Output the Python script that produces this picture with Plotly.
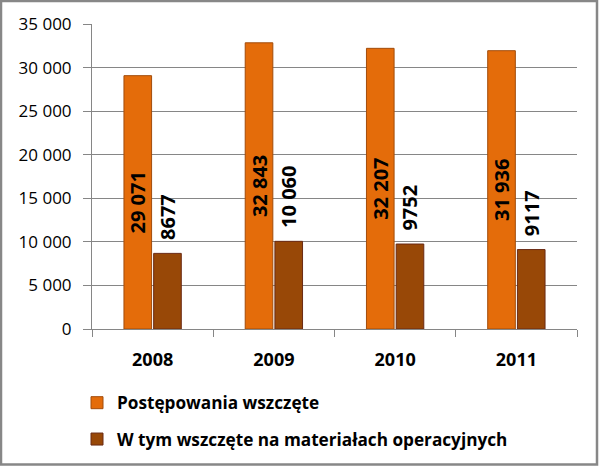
import plotly.graph_objects as go

years = ["2008", "2009", "2010", "2011"]
wszczete = [29071, 32843, 32207, 31936]
operacyjne = [8677, 10060, 9752, 9117]
series_names = ["Postępowania wszczęte", "W tym wszczęte na materiałach operacyjnych"]
y_ticks = [0, 5000, 10000, 15000, 20000, 25000, 30000, 35000]


def fmt(v):
    return f"{v:,}".replace(",", " ") if v >= 10000 else str(v)


W, H = 600, 468
L, R, T, B = 92, 23, 24, 138
pw, ph = W - L - R, H - T - B

FONT = "Open Sans"
PAD = "\u00a0\u00a0"

fig = go.Figure()
fig.add_trace(go.Bar(
    x=years, y=wszczete, name=series_names[0], legendgroup="a",
    marker=dict(color="#E46C0A", line=dict(color="#A24C0B", width=1)),
    text=[fmt(v) for v in wszczete], textposition="inside",
    insidetextanchor="middle", textangle=-90, constraintext="none",
    textfont=dict(family=FONT, size=20, color="black", weight="bold"),
))
fig.add_trace(go.Bar(
    x=years, y=operacyjne, name=series_names[1], legendgroup="b",
    marker=dict(color="#984807", line=dict(color="#6A2A14", width=1)),
    text=[PAD + fmt(v) for v in operacyjne], textposition="outside",
    textangle=-90, constraintext="none", cliponaxis=False,
    textfont=dict(family=FONT, size=20, color="black", weight="bold"),
))


def px_x(p):
    return (p - L) / pw


def px_y(p):
    return (H - B - p) / ph


fig.update_layout(
    width=W, height=H,
    margin=dict(l=L, r=R, t=T, b=B),
    paper_bgcolor="white", plot_bgcolor="white",
    separators=", ",
    barmode="group", bargap=0.51, bargroupgap=0.07,
    uniformtext=dict(minsize=20, mode="show"),
    font=dict(family=FONT, color="black"),
    showlegend=True,
    legend=dict(
        orientation="v", x=px_x(77), y=px_y(385), xanchor="left", yanchor="top",
        font=dict(family=FONT, size=17.2, color="black", weight="bold"),
        tracegroupgap=11, traceorder="grouped",
    ),
    xaxis=dict(
        showline=True, linecolor="#868686", linewidth=1,
        ticks="outside", ticklen=7, tickcolor="#868686", tickson="boundaries",
        tickfont=dict(family=FONT, size=18, color="black", weight="bold"),
        ticklabelstandoff=14, showgrid=False,
    ),
    yaxis=dict(
        range=[0, 35000], tickvals=y_ticks, tickformat=",d",
        showline=True, linecolor="#868686", linewidth=1,
        showgrid=True, gridcolor="#868686", gridwidth=1,
        ticks="outside", ticklen=8, tickcolor="#868686",
        tickfont=dict(family=FONT, size=17, color="black"),
        ticklabelstandoff=8, zeroline=False,
    ),
    shapes=[dict(
        type="rect", xref="paper", yref="paper",
        x0=px_x(1), x1=px_x(597), y0=px_y(466), y1=px_y(1),
        line=dict(color="#878787", width=2.5), fillcolor="rgba(0,0,0,0)",
        layer="above",
    )],
)

fig.write_html("out.html")
